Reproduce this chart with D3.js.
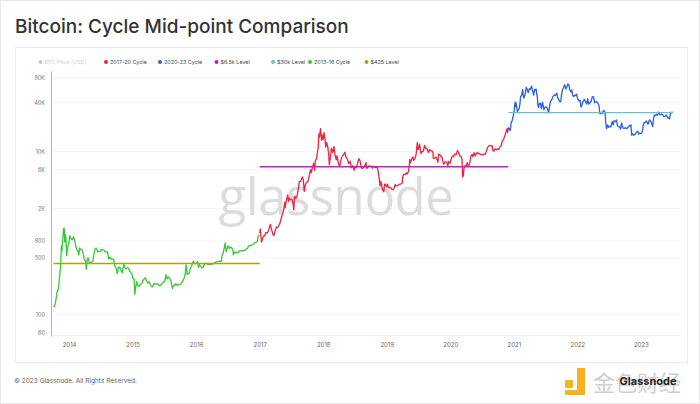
<!DOCTYPE html>
<html><head><meta charset="utf-8">
<script src="https://cdn.jsdelivr.net/npm/d3@7"></script>
<style>body{margin:0;background:#fff;}svg{display:block;font-family:Inter,"Noto Sans",sans-serif;}</style>
</head><body>
<svg id="chart" width="700" height="404"></svg>
<script>
// ---------------- DATA ----------------
const cycle1316 = [["2013-10-03",125],["2013-10-10",127],["2013-10-17",150],["2013-10-24",190],["2013-10-31",205],["2013-11-07",290],["2013-11-12",360],["2013-11-18",700],["2013-11-21",600],["2013-11-25",800],["2013-11-30",1130],["2013-12-04",1150],["2013-12-07",780],["2013-12-10",970],["2013-12-14",870],["2013-12-18",530],["2013-12-22",620],["2013-12-27",730],["2013-12-31",750],
["2014-01-05",930],["2014-01-12",860],["2014-01-19",830],["2014-01-26",900],["2014-02-02",820],["2014-02-09",680],["2014-02-16",620],["2014-02-23",590],["2014-02-26",540],["2014-03-02",660],["2014-03-09",630],["2014-03-16",630],["2014-03-23",565],["2014-03-30",470],["2014-04-06",460],["2014-04-10",360],["2014-04-14",460],["2014-04-20",500],["2014-04-27",435],["2014-05-04",440],["2014-05-11",440],["2014-05-18",450],["2014-05-25",575],["2014-06-01",650],["2014-06-08",655],["2014-06-15",590],["2014-06-22",600],["2014-06-29",600],["2014-07-06",630],["2014-07-13",625],["2014-07-20",625],["2014-07-27",590],["2014-08-03",585],["2014-08-10",590],["2014-08-17",480],["2014-08-24",510],["2014-08-31",480],["2014-09-07",480],["2014-09-14",480],["2014-09-21",400],["2014-09-28",375],["2014-10-05",320],["2014-10-12",380],["2014-10-19",385],["2014-10-26",355],["2014-11-02",325],["2014-11-12",420],["2014-11-16",385],["2014-11-23",365],["2014-11-30",375],["2014-12-07",375],["2014-12-14",350],["2014-12-21",330],["2014-12-28",315],
["2015-01-04",275],["2015-01-10",275],["2015-01-14",178],["2015-01-18",210],["2015-01-25",255],["2015-02-01",225],["2015-02-08",225],["2015-02-15",235],["2015-02-22",240],["2015-03-01",260],["2015-03-08",275],["2015-03-15",285],["2015-03-22",265],["2015-03-29",245],["2015-04-05",255],["2015-04-12",235],["2015-04-19",222],["2015-04-26",220],["2015-05-03",240],["2015-05-10",240],["2015-05-17",236],["2015-05-24",240],["2015-05-31",230],["2015-06-07",225],["2015-06-14",233],["2015-06-21",245],["2015-06-28",250],["2015-07-05",260],["2015-07-12",310],["2015-07-19",275],["2015-07-26",290],["2015-08-02",280],["2015-08-09",265],["2015-08-18",210],["2015-08-23",228],["2015-08-30",230],["2015-09-06",240],["2015-09-13",230],["2015-09-20",232],["2015-09-27",233],["2015-10-04",238],["2015-10-11",247],["2015-10-18",262],["2015-10-25",285],["2015-11-01",325],["2015-11-04",410],["2015-11-08",375],["2015-11-11",310],["2015-11-15",320],["2015-11-22",322],["2015-11-29",370],["2015-12-06",390],["2015-12-13",435],["2015-12-17",455],["2015-12-20",440],["2015-12-27",420],
["2016-01-03",430],["2016-01-10",448],["2016-01-15",380],["2016-01-20",410],["2016-01-27",395],["2016-02-03",375],["2016-02-10",380],["2016-02-17",415],["2016-02-24",425],["2016-03-02",425],["2016-03-09",412],["2016-03-16",415],["2016-03-23",418],["2016-03-30",413],["2016-04-06",422],["2016-04-13",424],["2016-04-20",440],["2016-04-27",445],["2016-05-04",447],["2016-05-11",452],["2016-05-18",455],["2016-05-25",448],["2016-05-29",530],["2016-06-05",575],["2016-06-12",680],["2016-06-16",760],["2016-06-22",590],["2016-06-27",650],["2016-07-03",700],["2016-07-10",650],["2016-07-17",675],["2016-07-24",660],["2016-07-31",625],["2016-08-02",545],["2016-08-07",590],["2016-08-14",570],["2016-08-21",580],["2016-08-28",575],["2016-09-04",605],["2016-09-11",608],["2016-09-18",610],["2016-09-25",605],["2016-10-02",615],["2016-10-09",618],["2016-10-16",640],["2016-10-23",655],["2016-10-30",700],["2016-11-06",710],["2016-11-13",705],["2016-11-20",730],["2016-11-27",735],["2016-12-04",765],["2016-12-11",775],["2016-12-18",790],["2016-12-23",920],["2016-12-31",960]];

const cycle1720 = [["2017-01-01",1000],["2017-01-04",1130],["2017-01-11",780],["2017-01-15",820],["2017-01-22",925],["2017-01-29",920],["2017-02-05",1020],["2017-02-12",1000],["2017-02-19",1055],["2017-02-26",1180],["2017-03-03",1280],["2017-03-10",1110],["2017-03-18",960],["2017-03-24",940],["2017-03-31",1080],["2017-04-07",1190],["2017-04-14",1180],["2017-04-21",1240],["2017-04-28",1340],["2017-05-05",1540],["2017-05-12",1700],["2017-05-19",1950],["2017-05-25",2400],["2017-05-27",2050],["2017-06-02",2480],["2017-06-11",2950],["2017-06-15",2430],["2017-06-20",2700],["2017-06-27",2550],["2017-07-04",2600],["2017-07-10",2400],["2017-07-16",1930],["2017-07-20",2850],["2017-07-27",2670],["2017-08-03",2800],["2017-08-10",3420],["2017-08-17",4300],["2017-08-24",4320],["2017-08-31",4700],["2017-09-02",4900],["2017-09-08",4600],["2017-09-14",3250],["2017-09-20",3900],["2017-09-27",4200],["2017-10-04",4220],["2017-10-11",4820],["2017-10-20",6000],["2017-10-25",5500],["2017-10-31",6450],["2017-11-07",7150],["2017-11-12",5900],["2017-11-17",7800],["2017-11-24",8200],["2017-11-29",9900],["2017-12-03",11200],["2017-12-07",16500],["2017-12-10",15000],["2017-12-17",19100],["2017-12-22",13800],["2017-12-26",15900],["2017-12-31",14000],
["2018-01-06",17100],["2018-01-10",14700],["2018-01-16",11300],["2018-01-20",12900],["2018-01-27",11500],["2018-02-02",8900],["2018-02-05",6900],["2018-02-10",8100],["2018-02-17",11000],["2018-02-24",9700],["2018-03-04",11500],["2018-03-10",9000],["2018-03-17",7900],["2018-03-21",8900],["2018-03-31",6900],["2018-04-06",6600],["2018-04-13",7900],["2018-04-20",8800],["2018-04-27",9000],["2018-05-05",9800],["2018-05-12",8500],["2018-05-19",8200],["2018-05-28",7100],["2018-06-05",7600],["2018-06-12",6300],["2018-06-19",6700],["2018-06-28",5900],["2018-07-04",6600],["2018-07-11",6300],["2018-07-18",7300],["2018-07-25",8200],["2018-08-01",7600],["2018-08-08",6300],["2018-08-14",6200],["2018-08-22",6400],["2018-08-30",6900],["2018-09-04",7300],["2018-09-08",6200],["2018-09-15",6500],["2018-09-22",6700],["2018-09-29",6600],["2018-10-06",6600],["2018-10-11",6250],["2018-10-15",6650],["2018-10-22",6500],["2018-10-31",6350],["2018-11-07",6500],["2018-11-14",5600],["2018-11-19",4600],["2018-11-24",3800],["2018-11-28",4300],["2018-12-03",3900],["2018-12-08",3400],["2018-12-15",3200],["2018-12-20",4000],["2018-12-24",4000],["2018-12-31",3700],
["2019-01-06",4000],["2019-01-10",3600],["2019-01-17",3650],["2019-01-24",3580],["2019-01-31",3450],["2019-02-07",3400],["2019-02-14",3600],["2019-02-19",3950],["2019-02-24",3800],["2019-03-03",3800],["2019-03-10",3900],["2019-03-17",4000],["2019-03-24",4000],["2019-03-31",4100],["2019-04-03",4900],["2019-04-10",5300],["2019-04-17",5200],["2019-04-24",5500],["2019-04-30",5300],["2019-05-07",5800],["2019-05-11",6900],["2019-05-14",8000],["2019-05-17",7300],["2019-05-24",8000],["2019-05-31",8600],["2019-06-05",7800],["2019-06-12",8200],["2019-06-19",9200],["2019-06-22",10700],["2019-06-26",12900],["2019-06-28",11000],["2019-07-02",10600],["2019-07-09",12300],["2019-07-17",9400],["2019-07-23",10000],["2019-07-31",10100],["2019-08-06",11900],["2019-08-13",10900],["2019-08-20",10900],["2019-08-28",9700],["2019-09-04",10600],["2019-09-11",10200],["2019-09-18",10200],["2019-09-24",9700],["2019-09-26",8200],["2019-10-03",8300],["2019-10-10",8600],["2019-10-17",8000],["2019-10-23",7400],["2019-10-26",9300],["2019-11-01",9200],["2019-11-08",8800],["2019-11-15",8500],["2019-11-22",7300],["2019-11-25",7000],["2019-12-01",7400],["2019-12-08",7500],["2019-12-15",7100],["2019-12-18",6600],["2019-12-22",7500],["2019-12-31",7200],
["2020-01-07",8150],["2020-01-14",8800],["2020-01-21",8700],["2020-01-28",9350],["2020-02-04",9150],["2020-02-12",10300],["2020-02-19",9600],["2020-02-26",8800],["2020-03-04",8750],["2020-03-09",7900],["2020-03-12",4900],["2020-03-16",5000],["2020-03-20",6200],["2020-03-26",6700],["2020-04-01",6650],["2020-04-08",7300],["2020-04-15",6650],["2020-04-22",7100],["2020-04-29",8800],["2020-05-06",9200],["2020-05-10",8600],["2020-05-17",9700],["2020-05-24",8800],["2020-05-31",9500],["2020-06-07",9700],["2020-06-14",9400],["2020-06-21",9300],["2020-06-28",9100],["2020-07-05",9100],["2020-07-12",9300],["2020-07-19",9200],["2020-07-26",9900],["2020-08-02",11100],["2020-08-09",11700],["2020-08-16",11900],["2020-08-23",11700],["2020-08-30",11700],["2020-09-03",10200],["2020-09-08",10100],["2020-09-15",10800],["2020-09-22",10500],["2020-09-29",10800],["2020-10-06",10600],["2020-10-13",11400],["2020-10-20",11900],["2020-10-27",13600],["2020-11-03",14000],["2020-11-07",15000],["2020-11-13",16300],["2020-11-18",17800],["2020-11-24",19100],["2020-11-26",17100],["2020-11-30",19700]];

const cycle2023 = [["2020-11-30",19700],["2020-12-05",19100],["2020-12-11",18000],["2020-12-17",23000],["2020-12-21",23500],["2020-12-27",26300],["2020-12-31",29000],
["2021-01-03",32000],["2021-01-08",40500],["2021-01-11",35500],["2021-01-14",39200],["2021-01-21",30800],["2021-01-26",32400],["2021-01-31",33100],["2021-02-05",38300],["2021-02-08",46400],["2021-02-14",48700],["2021-02-17",52100],["2021-02-21",57500],["2021-02-23",48800],["2021-02-28",45200],["2021-03-05",48900],["2021-03-13",61200],["2021-03-17",58900],["2021-03-24",52800],["2021-03-31",58900],["2021-04-06",58000],["2021-04-13",63500],["2021-04-18",56200],["2021-04-25",49000],["2021-04-30",57800],["2021-05-03",56600],["2021-05-09",58200],["2021-05-13",49700],["2021-05-16",46400],["2021-05-19",37000],["2021-05-23",34700],["2021-05-27",38500],["2021-06-03",39200],["2021-06-08",33600],["2021-06-15",40200],["2021-06-22",32500],["2021-06-27",34600],["2021-07-04",35300],["2021-07-11",34200],["2021-07-20",29800],["2021-07-26",37300],["2021-07-31",41500],["2021-08-06",42800],["2021-08-14",47100],["2021-08-22",49300],["2021-08-28",48900],["2021-09-06",51800],["2021-09-07",46900],["2021-09-13",44900],["2021-09-21",40700],["2021-09-28",41000],["2021-10-01",48200],["2021-10-06",55400],["2021-10-15",61600],["2021-10-20",66000],["2021-10-27",58400],["2021-11-01",61300],["2021-11-08",67600],["2021-11-14",65000],["2021-11-18",56900],["2021-11-26",53600],["2021-11-30",57000],["2021-12-04",49400],["2021-12-10",47100],["2021-12-15",48900],["2021-12-22",48600],["2021-12-27",50700],["2021-12-31",46300],
["2022-01-05",43500],["2022-01-10",41800],["2022-01-17",42200],["2022-01-22",35000],["2022-01-28",37700],["2022-02-04",41500],["2022-02-10",43600],["2022-02-17",40500],["2022-02-24",38300],["2022-03-01",44400],["2022-03-07",38000],["2022-03-14",39600],["2022-03-21",41000],["2022-03-28",47100],["2022-04-04",46600],["2022-04-11",39500],["2022-04-18",40800],["2022-04-25",40400],["2022-05-01",38400],["2022-05-06",36000],["2022-05-09",30100],["2022-05-12",28900],["2022-05-19",30300],["2022-05-26",29200],["2022-05-31",31800],["2022-06-07",31100],["2022-06-10",29100],["2022-06-13",22500],["2022-06-18",19000],["2022-06-24",21200],["2022-06-30",19800],["2022-07-06",20500],["2022-07-13",20000],["2022-07-20",23200],["2022-07-26",21200],["2022-07-30",23800],["2022-08-06",23200],["2022-08-14",24400],["2022-08-19",20900],["2022-08-26",20200],["2022-09-01",20100],["2022-09-06",18800],["2022-09-12",22400],["2022-09-19",19500],["2022-09-26",19200],["2022-10-03",19600],["2022-10-10",19100],["2022-10-17",19500],["2022-10-26",20800],["2022-11-01",20500],["2022-11-05",21300],["2022-11-09",15900],["2022-11-14",16600],["2022-11-21",15800],["2022-11-28",16200],["2022-12-05",17100],["2022-12-14",17800],["2022-12-19",16400],["2022-12-26",16900],["2022-12-31",16550],
["2023-01-07",16950],["2023-01-12",18800],["2023-01-14",20900],["2023-01-21",22800],["2023-01-28",23000],["2023-02-02",23700],["2023-02-09",21800],["2023-02-13",21800],["2023-02-16",23600],["2023-02-21",24500],["2023-02-28",23150],["2023-03-03",22400],["2023-03-10",20200],["2023-03-14",24700],["2023-03-19",28000],["2023-03-24",27500],["2023-03-31",28500],["2023-04-07",27900],["2023-04-14",30500],["2023-04-20",28200],["2023-04-26",28300],["2023-05-03",28700],["2023-05-10",27600],["2023-05-12",26800],["2023-05-19",26900],["2023-05-28",28000],["2023-06-05",25700],["2023-06-10",25800],["2023-06-15",25100],["2023-06-21",30100],["2023-06-28",30100],["2023-07-05",30500]];

// horizontal mid-point levels: [label, value, start, end]
const levels = [["$425 Level",425,"2013-10-03","2017-01-01"],["$6.5k Level",6500,"2017-01-01","2020-11-30"],["$30k Level",30000,"2020-11-30","2023-07-05"]];
const legendLabels = ["BTC Price [USD]","2017-20 Cycle","2020-23 Cycle","$6.5k Level","$30k Level","2013-16 Cycle","$425 Level"];
const yTickValues = [60,100,500,800,2000,6000,10000,40000,80000];
const yTickLabels = ["60","100","500","800","2K","6K","10K","40K","80K"];
const xTickYears = ["2014","2015","2016","2017","2018","2019","2020","2021","2022","2023"];

// ---------------- STYLE ----------------
const colors = {"BTC Price [USD]":"#c8c8c8","2017-20 Cycle":"#f0223e","2020-23 Cycle":"#2760e6","$6.5k Level":"#c21ec4","$30k Level":"#63c3cc","2013-16 Cycle":"#36c936","$425 Level":"#a6a21e"};

const svg = d3.select("#chart");
const parse = d3.timeParse("%Y-%m-%d");
const M = {left:51, right:680, top:71, bottom:336};

svg.append("rect").attr("x",0.5).attr("y",0.5).attr("width",699).attr("height",403).attr("fill","#fff").attr("stroke","#e8e8e8");
svg.append("rect").attr("x",15.5).attr("y",47.5).attr("width",672).attr("height",315).attr("fill","#fff").attr("stroke","#ececec");

svg.append("text").attr("x",15).attr("y",33).attr("font-size",19).attr("font-weight",500).attr("fill","#333")
  .text("Bitcoin: Cycle Mid-point Comparison");

const x = d3.scaleTime().domain([parse("2013-09-19"), parse("2023-08-14")]).range([M.left, M.right]);
const y = d3.scaleLog().domain([55, 97000]).range([M.bottom, M.top]);

// grid
svg.append("g").selectAll("line").data(yTickValues).join("line")
  .attr("x1",M.left).attr("x2",M.right).attr("y1",d=>y(d)).attr("y2",d=>y(d))
  .attr("stroke","#f2f2f2").attr("stroke-width",0.8);

// y axis
const yAxis = d3.axisLeft(y).tickValues(yTickValues).tickFormat((d,i)=>yTickLabels[i]).tickSize(0).tickPadding(6);
const gy = svg.append("g").attr("transform",`translate(${M.left},0)`).call(yAxis);
gy.select(".domain").attr("stroke","#b5b5b5").attr("stroke-width",1);
gy.selectAll("text").attr("font-size",5.5).attr("fill","#777").attr("font-family","Inter,sans-serif");

// x axis
const xAxis = d3.axisBottom(x).tickValues(xTickYears.map(s=>parse(s+"-01-01"))).tickFormat(d3.timeFormat("%Y")).tickSize(0).tickPadding(8);
const gx = svg.append("g").attr("transform",`translate(0,${M.bottom-1})`).call(xAxis);
gx.select(".domain").attr("stroke","#efefef");
gx.selectAll("text").attr("font-size",6).attr("fill","#666").attr("font-family","Inter,sans-serif");

// watermark
svg.append("text").attr("x",336).attr("y",215).attr("text-anchor","middle")
  .attr("font-family","'Open Sans',sans-serif").attr("font-size",51).attr("fill","#dcdcdc").attr("letter-spacing",-0.5)
  .text("glassnode");

// lines
const line = d3.line().x(d=>x(parse(d[0]))).y(d=>y(d[1])).curve(d3.curveLinear);
const series = [["2013-16 Cycle",cycle1316],["2017-20 Cycle",cycle1720],["2020-23 Cycle",cycle2023]];
svg.append("g").selectAll("path").data(series).join("path")
  .attr("d",d=>line(d[1])).attr("fill","none").attr("stroke",d=>colors[d[0]]).attr("stroke-width",1.3).attr("stroke-linejoin","round");

svg.append("g").selectAll("line").data(levels).join("line")
  .attr("x1",d=>x(parse(d[2]))).attr("x2",d=>x(parse(d[3])))
  .attr("y1",d=>y(d[1])).attr("y2",d=>y(d[1]))
  .attr("stroke",d=>colors[d[0]]).attr("stroke-width",1.4);

// legend
const legendX = [40.5,106,160,216.5,273,310,366.5];
const lg = svg.append("g").selectAll("g").data(legendLabels).join("g")
  .attr("transform",(d,i)=>`translate(${legendX[i]},62)`);
lg.append("circle").attr("r",2).attr("fill",d=>colors[d]);
lg.append("text").attr("x",4).attr("y",2).attr("font-size",5.4).attr("fill",(d,i)=>i===0?"#cfcfcf":"#444").text(d=>d);

// footer
svg.append("text").attr("x",14).attr("y",383).attr("font-size",6.5).attr("fill","#666").text("© 2023 Glassnode. All Rights Reserved.");

// bottom-right watermark logo
const wm = svg.append("g");
wm.append("rect").attr("x",565).attr("y",380).attr("width",8).attr("height",8).attr("rx",1).attr("fill","#f4b21c");
wm.append("path").attr("d","M577,368 h8 v27 h-20 v-5 h12 z").attr("fill","#f4b21c");
wm.append("text").attr("x",593).attr("y",391).attr("font-size",22).attr("fill","#cfcfcf")
  .attr("font-family","'Noto Sans CJK SC',sans-serif").text("金色财经");
wm.append("text").attr("x",648).attr("y",385).attr("text-anchor","middle").attr("font-size",11).attr("font-weight",700).attr("fill","#222").text("Glassnode");
</script>
</body></html>
